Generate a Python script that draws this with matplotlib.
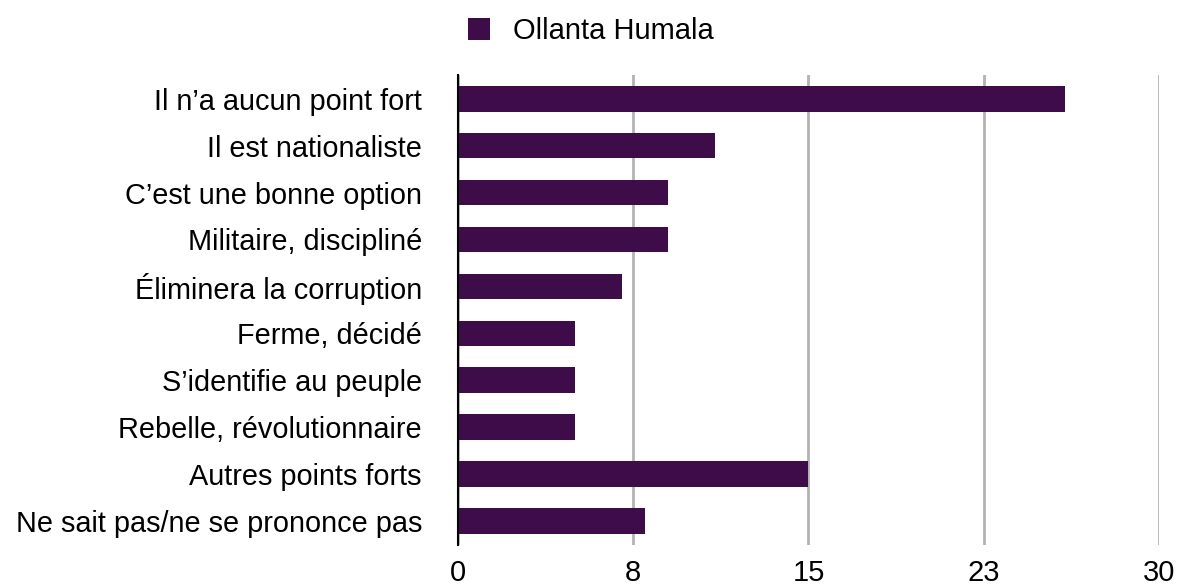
import matplotlib.pyplot as plt
import numpy as np

categories = [
    "Il n\u2019a aucun point fort",
    "Il est nationaliste",
    "C\u2019est une bonne option",
    "Militaire, discipliné",
    "Éliminera la corruption",
    "Ferme, décidé",
    "S\u2019identifie au peuple",
    "Rebelle, révolutionnaire",
    "Autres points forts",
    "Ne sait pas/ne se prononce pas",
]
values = [26, 11, 9, 9, 7, 5, 5, 5, 15, 8]
series_name = "Ollanta Humala"
tick_values = [0, 7.5, 15, 22.5, 30]
tick_labels = ["0", "8", "15", "23", "30"]

plt.rcParams["font.family"] = ["Liberation Sans", "DejaVu Sans"]

fig = plt.figure(figsize=(11.82, 5.87), dpi=100)
ax = fig.add_axes([0.3875, 0.072, 0.593, 0.8])

y = np.arange(len(categories))
ax.barh(y, values, height=0.55, color="#3e0c48", label=series_name, zorder=3)

ax.set_xlim(0, 30)
ax.set_ylim(len(categories) - 0.5, -0.5)
ax.set_xticks(tick_values)
ax.set_xticklabels(tick_labels)
ax.set_yticks(y)
ax.set_yticklabels(categories)
ax.tick_params(axis="both", length=0, colors="black")
ax.tick_params(axis="x", pad=10.5, labelsize=21)
ax.tick_params(axis="y", pad=26, labelsize=20.8)

ax.grid(axis="x", color="#b3b3b3", linewidth=2, zorder=0)
for side in ["top", "right", "bottom"]:
    ax.spines[side].set_visible(False)
ax.spines["left"].set_color("black")
ax.spines["left"].set_linewidth(1.5)
ax.spines["left"].set_zorder(4)

fig.legend(
    loc="center",
    bbox_to_anchor=(0.5, 0.947),
    frameon=False,
    fontsize=21,
    handlelength=0.75,
    handleheight=0.75,
    handletextpad=0.8,
)

fig.savefig("out.png", dpi=100)
